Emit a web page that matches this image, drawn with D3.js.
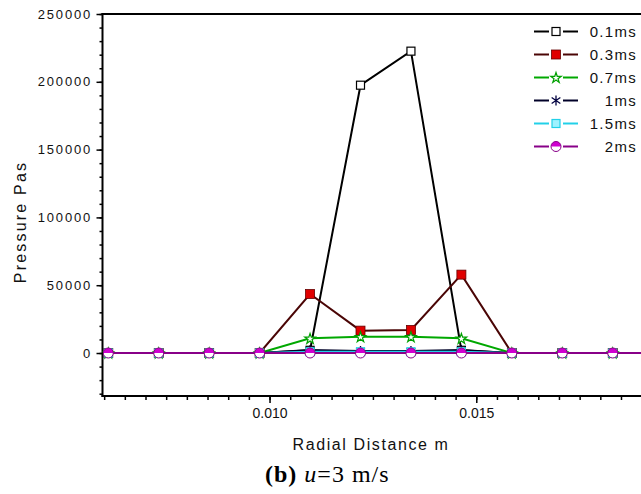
<!DOCTYPE html>
<html><head><meta charset="utf-8">
<script src="https://cdn.jsdelivr.net/npm/d3@7"></script>
<style>body{margin:0;background:#fff} svg{display:block}</style>
</head><body>
<svg id="c" width="641" height="494"></svg>
<script>
// ---- data ----
const radialDistance = [0.0061,0.00732,0.00854,0.00976,0.01098,0.0122,0.01342,0.01464,0.01586,0.01708,0.0183,0.01952];
const seriesNames = ["0.1ms","0.3ms","0.7ms","1ms","1.5ms","2ms"];
const p01ms = [0,0,0,0,2000,197500,222600,2000,0,0,0,0];
const p03ms = [0,0,0,0,43500,16500,17000,57800,0,0,0,0];
const p07ms = [0,0,0,0,10800,12000,12000,10800,0,0,0,0];
const p1ms  = [0,0,0,0,2200,1500,1500,2200,0,0,0,0];
const p15ms = [0,0,0,0,900,900,900,900,0,0,0,0];
const p2ms  = [0,0,0,0,0,0,0,0,0,0,0,0];
const yTickValues = [0,50000,100000,150000,200000,250000];
const xTickValues = [0.010,0.015];
const xTitle = "Radial Distance m";
const yTitle = "Pressure Pas";

const seriesValues = [p01ms,p03ms,p07ms,p1ms,p15ms,p2ms];
const styles = [
  {line:"#000000", marker:"sqOpen"},
  {line:"#4a0505", marker:"sqRed"},
  {line:"#00a800", marker:"star"},
  {line:"#000028", marker:"asterisk"},
  {line:"#22d0e8", marker:"sqCyan"},
  {line:"#880088", marker:"halfCircle"}
];

const svg = d3.select("#c");
const L = 102.5, T = 14, B = 396;
const x = d3.scaleLinear().domain([0.00596, 0.0191]).range([L, 645.8]);
const y = d3.scaleLinear().domain([-31700, 250000]).range([B, T]);

svg.append("defs").append("clipPath").attr("id","clip")
  .append("rect").attr("x",L).attr("y",T-8).attr("width",641-L).attr("height",B-T+8);

const font = "'Liberation Sans', Arial, sans-serif";
// y minor
svg.append("g").attr("transform",`translate(${L},0)`)
  .call(d3.axisLeft(y).tickValues(d3.range(-30000,250001,10000)).tickSize(3).tickFormat(""))
  .call(g=>g.select(".domain").remove())
  .selectAll("line").attr("stroke","#000").attr("stroke-width",1.5);
// y major
const gy = svg.append("g").attr("transform",`translate(${L},0)`)
  .call(d3.axisLeft(y).tickValues(yTickValues).tickSize(6).tickPadding(0).tickFormat(d3.format("d")));
gy.select(".domain").remove();
gy.selectAll("line").attr("stroke","#000").attr("stroke-width",1.5);
gy.selectAll("text").attr("x",-10.5).attr("font-family",font).attr("font-size",13)
  .attr("letter-spacing","1.8px").attr("fill","#111");

// x minor
svg.append("g").attr("transform",`translate(0,${B})`)
  .call(d3.axisBottom(x).tickValues(d3.range(0.006,0.01901,0.0005)).tickSize(4).tickFormat(""))
  .call(g=>g.select(".domain").remove())
  .selectAll("line").attr("stroke","#000").attr("stroke-width",1.5);
const gx = svg.append("g").attr("transform",`translate(0,${B})`)
  .call(d3.axisBottom(x).tickValues(xTickValues).tickSize(7).tickFormat(d3.format(".3f")));
gx.select(".domain").remove();
gx.selectAll("line").attr("stroke","#000").attr("stroke-width",1.5);
gx.selectAll("text").attr("y",12).attr("dy","0.71em").attr("font-family",font).attr("font-size",14).attr("fill","#111");

// frame lines
svg.append("line").attr("x1",L).attr("x2",L).attr("y1",T-1).attr("y2",B+1).attr("stroke","#000").attr("stroke-width",2);
svg.append("line").attr("x1",L-1).attr("x2",641).attr("y1",B).attr("y2",B).attr("stroke","#000").attr("stroke-width",2);
svg.append("line").attr("x1",L-1).attr("x2",641).attr("y1",T).attr("y2",T).attr("stroke","#000").attr("stroke-width",2);

// titles
svg.append("text").attr("x",371).attr("y",449.5).attr("text-anchor","middle")
  .attr("font-family",font).attr("font-size",16).attr("letter-spacing","1.6px").attr("fill","#111").text(xTitle);
svg.append("text").attr("transform","translate(26,222) rotate(-90)").attr("text-anchor","middle")
  .attr("font-family",font).attr("font-size",16).attr("letter-spacing","2.2px").attr("fill","#111").text(yTitle);

// markers
function drawMarker(g, type, cx, cy){
  if(type==="sqOpen"){
    g.append("rect").attr("x",cx-4).attr("y",cy-4).attr("width",8).attr("height",8)
      .attr("fill","#fff").attr("stroke","#000").attr("stroke-width",1.2);
  } else if(type==="sqRed"){
    g.append("rect").attr("x",cx-4.5).attr("y",cy-4.5).attr("width",9).attr("height",9)
      .attr("fill","#e00000").attr("stroke","#600").attr("stroke-width",0.8);
  } else if(type==="star"){
    g.append("path").attr("d",d3.symbol(d3.symbolStar,34)()).attr("transform",`translate(${cx},${cy+0.5})`)
      .attr("fill","#fff").attr("stroke","#00a000").attr("stroke-width",1.2);
  } else if(type==="asterisk"){
    const r=5;
    g.append("path").attr("d",`M${cx},${cy-r}V${cy+r}M${cx-r*0.87},${cy-r*0.6}L${cx+r*0.87},${cy+r*0.6}M${cx-r*0.87},${cy+r*0.6}L${cx+r*0.87},${cy-r*0.6}`)
      .attr("stroke","#000040").attr("stroke-width",1.3).attr("fill","none");
  } else if(type==="sqCyan"){
    g.append("rect").attr("x",cx-4).attr("y",cy-4).attr("width",8).attr("height",8)
      .attr("fill","#9ff2ff").attr("stroke","#22d0e8").attr("stroke-width",1.2);
  } else if(type==="halfCircle"){
    const r=5;
    g.append("circle").attr("cx",cx).attr("cy",cy).attr("r",r).attr("fill","#fff");
    g.append("path").attr("d",`M${cx-r},${cy}A${r},${r} 0 0 1 ${cx+r},${cy}Z`).attr("fill","#d000d0");
    g.append("circle").attr("cx",cx).attr("cy",cy).attr("r",r).attr("fill","none").attr("stroke","#880088").attr("stroke-width",1);
  }
}

const plot = svg.append("g").attr("clip-path","url(#clip)");
const line = d3.line().x((d,i)=>x(radialDistance[i])).y(d=>y(d));
seriesValues.forEach((vals,si)=>{
  plot.append("path").datum(vals).attr("d",line).attr("fill","none")
    .attr("stroke",styles[si].line).attr("stroke-width",2);
});
seriesValues.forEach((vals,si)=>{
  const g = plot.append("g");
  vals.forEach((v,i)=>drawMarker(g, styles[si].marker, x(radialDistance[i]), y(v)));
});

// legend
const lg = svg.append("g");
seriesNames.forEach((name,i)=>{
  const cy = 31.5 + i*23;
  lg.append("line").attr("x1",534).attr("x2",549).attr("y1",cy).attr("y2",cy).attr("stroke",styles[i].line).attr("stroke-width",2);
  lg.append("line").attr("x1",563).attr("x2",578).attr("y1",cy).attr("y2",cy).attr("stroke",styles[i].line).attr("stroke-width",2);
  drawMarker(lg, styles[i].marker, 556, cy);
  lg.append("text").attr("x",637).attr("y",cy).attr("dy","0.36em").attr("text-anchor","end")
    .attr("font-family",font).attr("font-size",15).attr("letter-spacing","1.3px").attr("fill","#111").text(name);
});

// caption
const cap = svg.append("text").attr("x",265).attr("y",482).attr("font-family","'Liberation Serif','Times New Roman',serif")
  .attr("font-size",24).attr("letter-spacing","1px").attr("fill","#000");
cap.append("tspan").attr("font-weight","bold").text("(b)");
cap.append("tspan").text(" ");
cap.append("tspan").attr("font-style","italic").text("u");
cap.append("tspan").text("=3 m/s");
</script>
</body></html>
